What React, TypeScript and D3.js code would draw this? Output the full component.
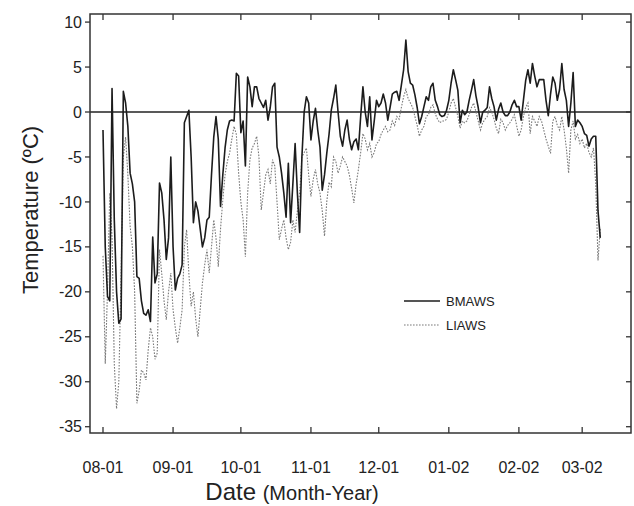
import React from "react";
import * as d3 from "d3";

const START = Date.UTC(2001, 7, 1);
const DAY = 86400000;

const bmaws: number[] = [
  -2, -15, -20.5, -21, 2.6, -12, -20, -23.5, -23, 2.3,
  1, -1.6, -6.8, -8, -10, -18.3, -18.5, -21, -22.4, -22.6,
  -22, -23.3, -13.9, -19, -18, -7.9, -9, -12, -16.4, -14,
  -5, -15, -19.8, -18.5, -18, -17, -1.2, -0.5, 0.2, -5,
  -12.3, -10, -11, -13, -15, -14, -12, -11.7, -7, -2.8,
  -0.5, -3, -10.5, -7, -4, -2, -1, -0.9, -1, 4.3,
  4, -2.3, -1, -6, 3.9, 2.8, 0.6, 2.8, 2.8, 1.5,
  1, 0.5, 1.3, -0.9, 0.5, 2.8, 3.2, -3.9, -5, -6.8,
  -9, -11.7, -5.7, -12.3, -8, -3.5, -9, -13.4, -5, 0,
  1.7, 1, -3.1, -1, 0.4, -2, -3.9, -8.7, -7, -4.6,
  -2.5, 0.2, 1.5, 3.0, 0, -2.7, -3.8, -2, -0.9, -3,
  -4.2, -3.3, -3, -4.2, -0.5, 2.8, 0, -1.6, 1.7, -3.1,
  -1, 1.3, 0.6, 1, 2, 1, -0.9, 0.5, 2, 2.2,
  2.3, 1.3, 3, 4.7, 8, 4.5, 3.2, 3, 1.9, 0.5,
  -1.3, -0.5, 0.6, 1.7, 1.3, 2.8, 3.2, 1.3, 0.6, -0.3,
  -0.5, -0.4, 0.2, 1.3, 3.2, 4.7, 3.6, 2.4, -1.2, 0.2,
  -0.3, 0, 1.3, 2.4, 3.6, 1.8, 0.5, -1.2, 0, 0.2,
  0.5, 2.8, 1.5, 0.6, -0.9, 0.3, 1, 0, -0.4, -0.4,
  0, 0.8, 1.3, 0.6, 0.6, -0.9, 1.3, 3.5, 4.7, 3.2,
  5.4, 4.0, 2.8, 3.6, 3.6, 3.6, 1.3, -0.4, 2, 3.9,
  3.2, 1.3, 2.5, 5.4, 2.5, 1.3, -1.6, 1, 4.4, -1.6,
  -0.9, -1.2, -1.6, -2.4, -2.6, -3.8, -3, -2.7, -2.7, -11,
  -14,
];

const liaws: number[] = [
  -16, -28, -20, -9, -14, -28, -33, -30, -18, -5,
  -2.8, -7, -12.7, -15, -20, -32.4, -31, -28.7, -29, -29.8,
  -26.5, -24, -25, -27.5, -26.8, -15.3, -18, -21, -23.1, -20,
  -17.9, -22, -24, -25.7, -24, -22, -15, -13.1, -18, -21.6,
  -20, -23, -25, -22, -19, -17, -15.3, -17.9, -15, -12,
  -14, -17.2, -13, -9.8, -7, -5.5, -4.6, -3, -1.6, -2.5,
  -6.8, -10, -12, -16.1, -9, -5.3, -4, -3.5, -2.7, -5,
  -10.9, -9, -7, -6.4, -8, -5.3, -6, -10, -14.2, -13,
  -12, -14, -15.3, -14.5, -12, -13.4, -11, -9, -5, -4.5,
  -4, -7, -9.4, -7.5, -6.4, -8, -9, -11, -13.8, -10,
  -7.8, -8.3, -5, -5.5, -6.8, -6, -5, -5.5, -6, -7,
  -8.5, -10.1, -8, -6.4, -4.5, -2.4, -3, -4.2, -3.5, -5,
  -4.5, -3.5, -3.3, -2.5, -2, -1.6, -2.2, -2, -1, -1.5,
  -0.5, -0.8, 0.5, 1.7, 2.5, 1.5, 1, 0.5, -0.5, -1.5,
  -2.7, -2, -1.6, -0.5, -0.3, 0.5, 0.8, -0.2, -0.8, -1.2,
  -1, -1, -0.8, 0, 1, 1.5, 0.5, -0.5, -1.8, -1,
  -1.2, -1, -0.3, 0.5, 1, 0, -1, -2, -1.2, -0.8,
  -0.5, 0.5, 0, -0.8, -1.8, -2.4, -0.8, -1.2, -2, -1.5,
  -1.2, -0.8, -0.3, -1.5, -2.7, -2, -0.5, 0.5, 1, -2.4,
  -0.5, -1, -1.6, -0.5, -1, -2, -3, -3.8, -4.6, -1,
  -0.5, -1.5, -2, -0.5, -2, -4, -6.8, -2, -1, -3,
  -2.5, -3.5, -3, -4, -3.5, -4.5, -5, -4, -8, -16.5,
  -13,
];

const yTicks = [10, 5, 0, -5, -10, -15, -20, -25, -30, -35];
const monthTicks = [
  Date.UTC(2001, 7, 1), Date.UTC(2001, 8, 1), Date.UTC(2001, 9, 1),
  Date.UTC(2001, 10, 1), Date.UTC(2001, 11, 1), Date.UTC(2002, 0, 1),
  Date.UTC(2002, 1, 1), Date.UTC(2002, 2, 1),
];
const monthLabels = ["08-01", "09-01", "10-01", "11-01", "12-01", "01-02", "02-02", "03-02"];
const seriesNames = ["BMAWS", "LIAWS"];

const W = 634, H = 506;
const L = 90, R = 631, T = 14, B = 433;

export default function App() {
  const x = d3.scaleUtc()
    .domain([new Date(START - 5.75 * DAY), new Date(START + 233.6 * DAY)])
    .range([L, R]);
  const y = d3.scaleLinear().domain([-35.7, 10.9]).range([B, T]);
  const line = d3.line<number>()
    .x((_, i) => x(new Date(START + i * DAY)))
    .y((v) => y(v))
    .curve(d3.curveLinear);
  const font = "'Liberation Sans', Arial, sans-serif";
  const axisColor = "#333";
  return (
    <svg width={W} height={H} style={{ position: "absolute", left: 0, top: 0, background: "#fff" }} fontFamily={font}>
      <rect x={0} y={0} width={W} height={H} fill="#fff" />
      <line x1={L} x2={R} y1={y(0)} y2={y(0)} stroke="#222" strokeWidth={1.3} />
      <path d={line(liaws) || ""} fill="none" stroke="#7a7a7a" strokeWidth={1.1} strokeDasharray="1.6,1.4" />
      <path d={line(bmaws) || ""} fill="none" stroke="#1c1c1c" strokeWidth={1.6} strokeLinejoin="round" />
      <rect x={L} y={T} width={R - L} height={B - T} fill="none" stroke={axisColor} strokeWidth={1.5} />
      {yTicks.map((t) => (
        <g key={t}>
          <line x1={L - 5} x2={L} y1={y(t)} y2={y(t)} stroke={axisColor} strokeWidth={1.3} />
          <line x1={R - 5} x2={R} y1={y(t)} y2={y(t)} stroke={axisColor} strokeWidth={1.3} />
          <text x={L - 8} y={y(t)} dy="0.35em" textAnchor="end" fontSize={16} fill="#222">{t}</text>
        </g>
      ))}
      {monthTicks.map((t, i) => (
        <g key={t}>
          <line x1={x(new Date(t))} x2={x(new Date(t))} y1={B} y2={B - 6} stroke={axisColor} strokeWidth={1.3} />
          <line x1={x(new Date(t))} x2={x(new Date(t))} y1={T} y2={T + 6} stroke={axisColor} strokeWidth={1.3} />
          <text x={x(new Date(t))} y={473} textAnchor="middle" fontSize={16} fill="#222">{monthLabels[i]}</text>
        </g>
      ))}
      <text transform={`translate(38,210) rotate(-90)`} textAnchor="middle" fontSize={22} fill="#222">Temperature (ºC)</text>
      <text x={292} y={500} textAnchor="middle" fill="#222">
        <tspan fontSize={24}>Date </tspan>
        <tspan fontSize={20}>(Month-Year)</tspan>
      </text>
      <line x1={404} x2={440} y1={301} y2={301} stroke="#1c1c1c" strokeWidth={1.5} />
      <text x={446} y={301} dy="0.35em" fontSize={13} fill="#222">{seriesNames[0]}</text>
      <line x1={404} x2={440} y1={325} y2={325} stroke="#7a7a7a" strokeWidth={1.1} strokeDasharray="1.6,1.4" />
      <text x={446} y={325} dy="0.35em" fontSize={13} fill="#222">{seriesNames[1]}</text>
    </svg>
  );
}
